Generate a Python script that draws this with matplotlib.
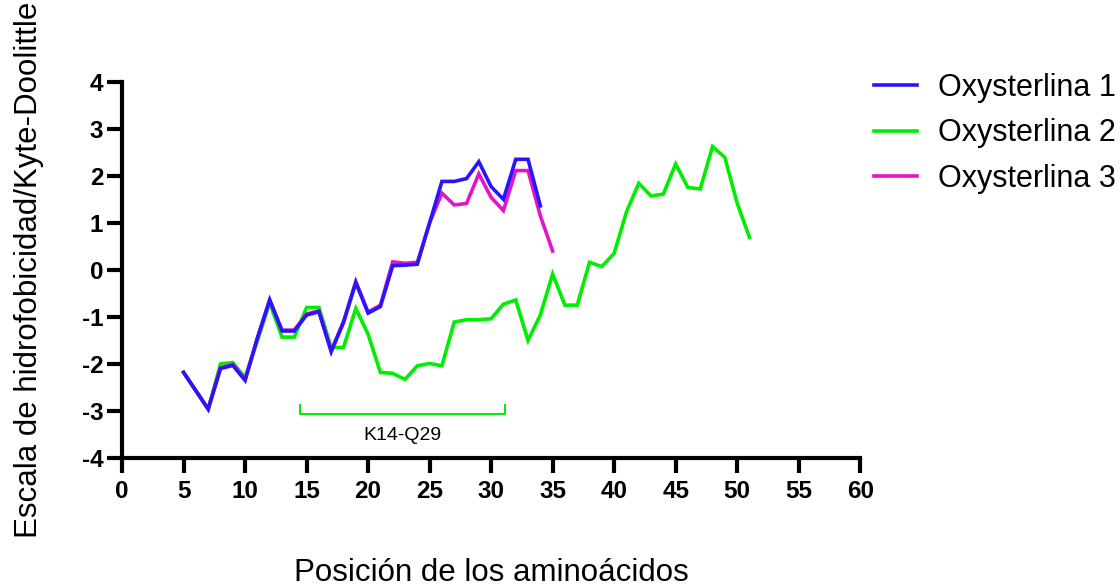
import matplotlib
matplotlib.use("Agg")
import matplotlib.pyplot as plt
import numpy as np

plt.rcParams['font.family'] = ['Liberation Sans', 'DejaVu Sans']
plt.rcParams['axes.unicode_minus'] = False

pos_1 = list(range(5, 35))
oxy_1 = [-2.18, -2.57, -2.96, -2.10, -2.03, -2.35, -1.45, -0.64, -1.30, -1.30,
         -0.96, -0.89, -1.74, -1.12, -0.27, -0.92, -0.78, 0.09, 0.10, 0.12,
         1.00, 1.88, 1.88, 1.94, 2.30, 1.77, 1.50, 2.35, 2.35, 1.36]

pos_3 = list(range(5, 36))
oxy_3 = [-2.18, -2.57, -2.96, -2.08, -2.01, -2.33, -1.45, -0.64, -1.28, -1.28,
         -0.94, -0.87, -1.72, -1.10, -0.25, -0.90, -0.75, 0.17, 0.14, 0.16,
         1.00, 1.63, 1.38, 1.41, 2.04, 1.54, 1.26, 2.11, 2.11, 1.15, 0.40]

pos_2 = list(range(5, 52))
oxy_2 = [-2.18, -2.57, -2.96, -2.00, -1.97, -2.29, -1.51, -0.70, -1.43, -1.43,
         -0.80, -0.80, -1.65, -1.65, -0.82, -1.37, -2.18, -2.20, -2.33, -2.04,
         -1.99, -2.04, -1.11, -1.06, -1.06, -1.04, -0.73, -0.64, -1.50, -0.96,
         -0.09, -0.75, -0.75, 0.16, 0.07, 0.35, 1.23, 1.84, 1.57, 1.61,
         2.25, 1.75, 1.72, 2.62, 2.39, 1.42, 0.69]

series_names = ["Oxysterlina 1", "Oxysterlina 2", "Oxysterlina 3"]
colors = ["#2a14ff", "#00ee00", "#e614c8"]

region_start, region_end = 14.47, 31.1
region_label = "K14-Q29"

x_ticks = list(range(0, 61, 5))
y_ticks = list(range(-4, 5))

fig = plt.figure(figsize=(11.2, 5.86), dpi=100)
ax = fig.add_axes([0.109, 0.2184, 0.659, 0.6422])

lw = 2.6
ax.plot(pos_2, oxy_2, color=colors[1], lw=lw, label=series_names[1], zorder=2, solid_joinstyle='miter')
ax.plot(pos_3, oxy_3, color=colors[2], lw=lw, label=series_names[2], zorder=3, solid_joinstyle='miter')
ax.plot(pos_1, oxy_1, color=colors[0], lw=lw, label=series_names[0], zorder=4, solid_joinstyle='miter')

# bracket annotation
ax.plot([region_start, region_start, region_end, region_end],
        [-2.88, -3.07, -3.07, -2.88], color=colors[1], lw=1.4, clip_on=False)
ax.text((region_start + region_end) / 2, -3.53, region_label, ha='center', va='center',
        fontsize=14)

ax.set_xlim(0, 60)
ax.set_ylim(-4, 4)
ax.set_xticks(x_ticks)
ax.set_yticks(y_ticks)
ax.set_xticklabels([str(v) for v in x_ticks])
ax.set_yticklabels([str(v) for v in y_ticks])
for s in ['top', 'right']:
    ax.spines[s].set_visible(False)
for s in ['left', 'bottom']:
    ax.spines[s].set_linewidth(3.0)
ax.tick_params(axis='both', direction='out', length=10.5, width=3.0, labelsize=17.5)
ax.tick_params(axis='x', pad=5)
ax.tick_params(axis='y', pad=3)
for lab in ax.get_xticklabels() + ax.get_yticklabels():
    lab.set_fontweight('bold')

ax.set_xlabel("Posición de los aminoácidos", fontsize=22.5, labelpad=40)
ax.set_ylabel("Escala de hidrofobicidad/Kyte-Doolittle", fontsize=22.5, labelpad=27)

handles, labels = ax.get_legend_handles_labels()
order = [labels.index(n) for n in series_names]
leg = fig.legend([handles[i] for i in order], [labels[i] for i in order],
                 loc='upper left', bbox_to_anchor=(874 / 1120, 1 - 73 / 586), frameon=False,
                 fontsize=22, handlelength=1.4, handletextpad=0.7, labelspacing=0.5,
                 borderaxespad=0, borderpad=0)

fig.savefig("out.png", dpi=100)
